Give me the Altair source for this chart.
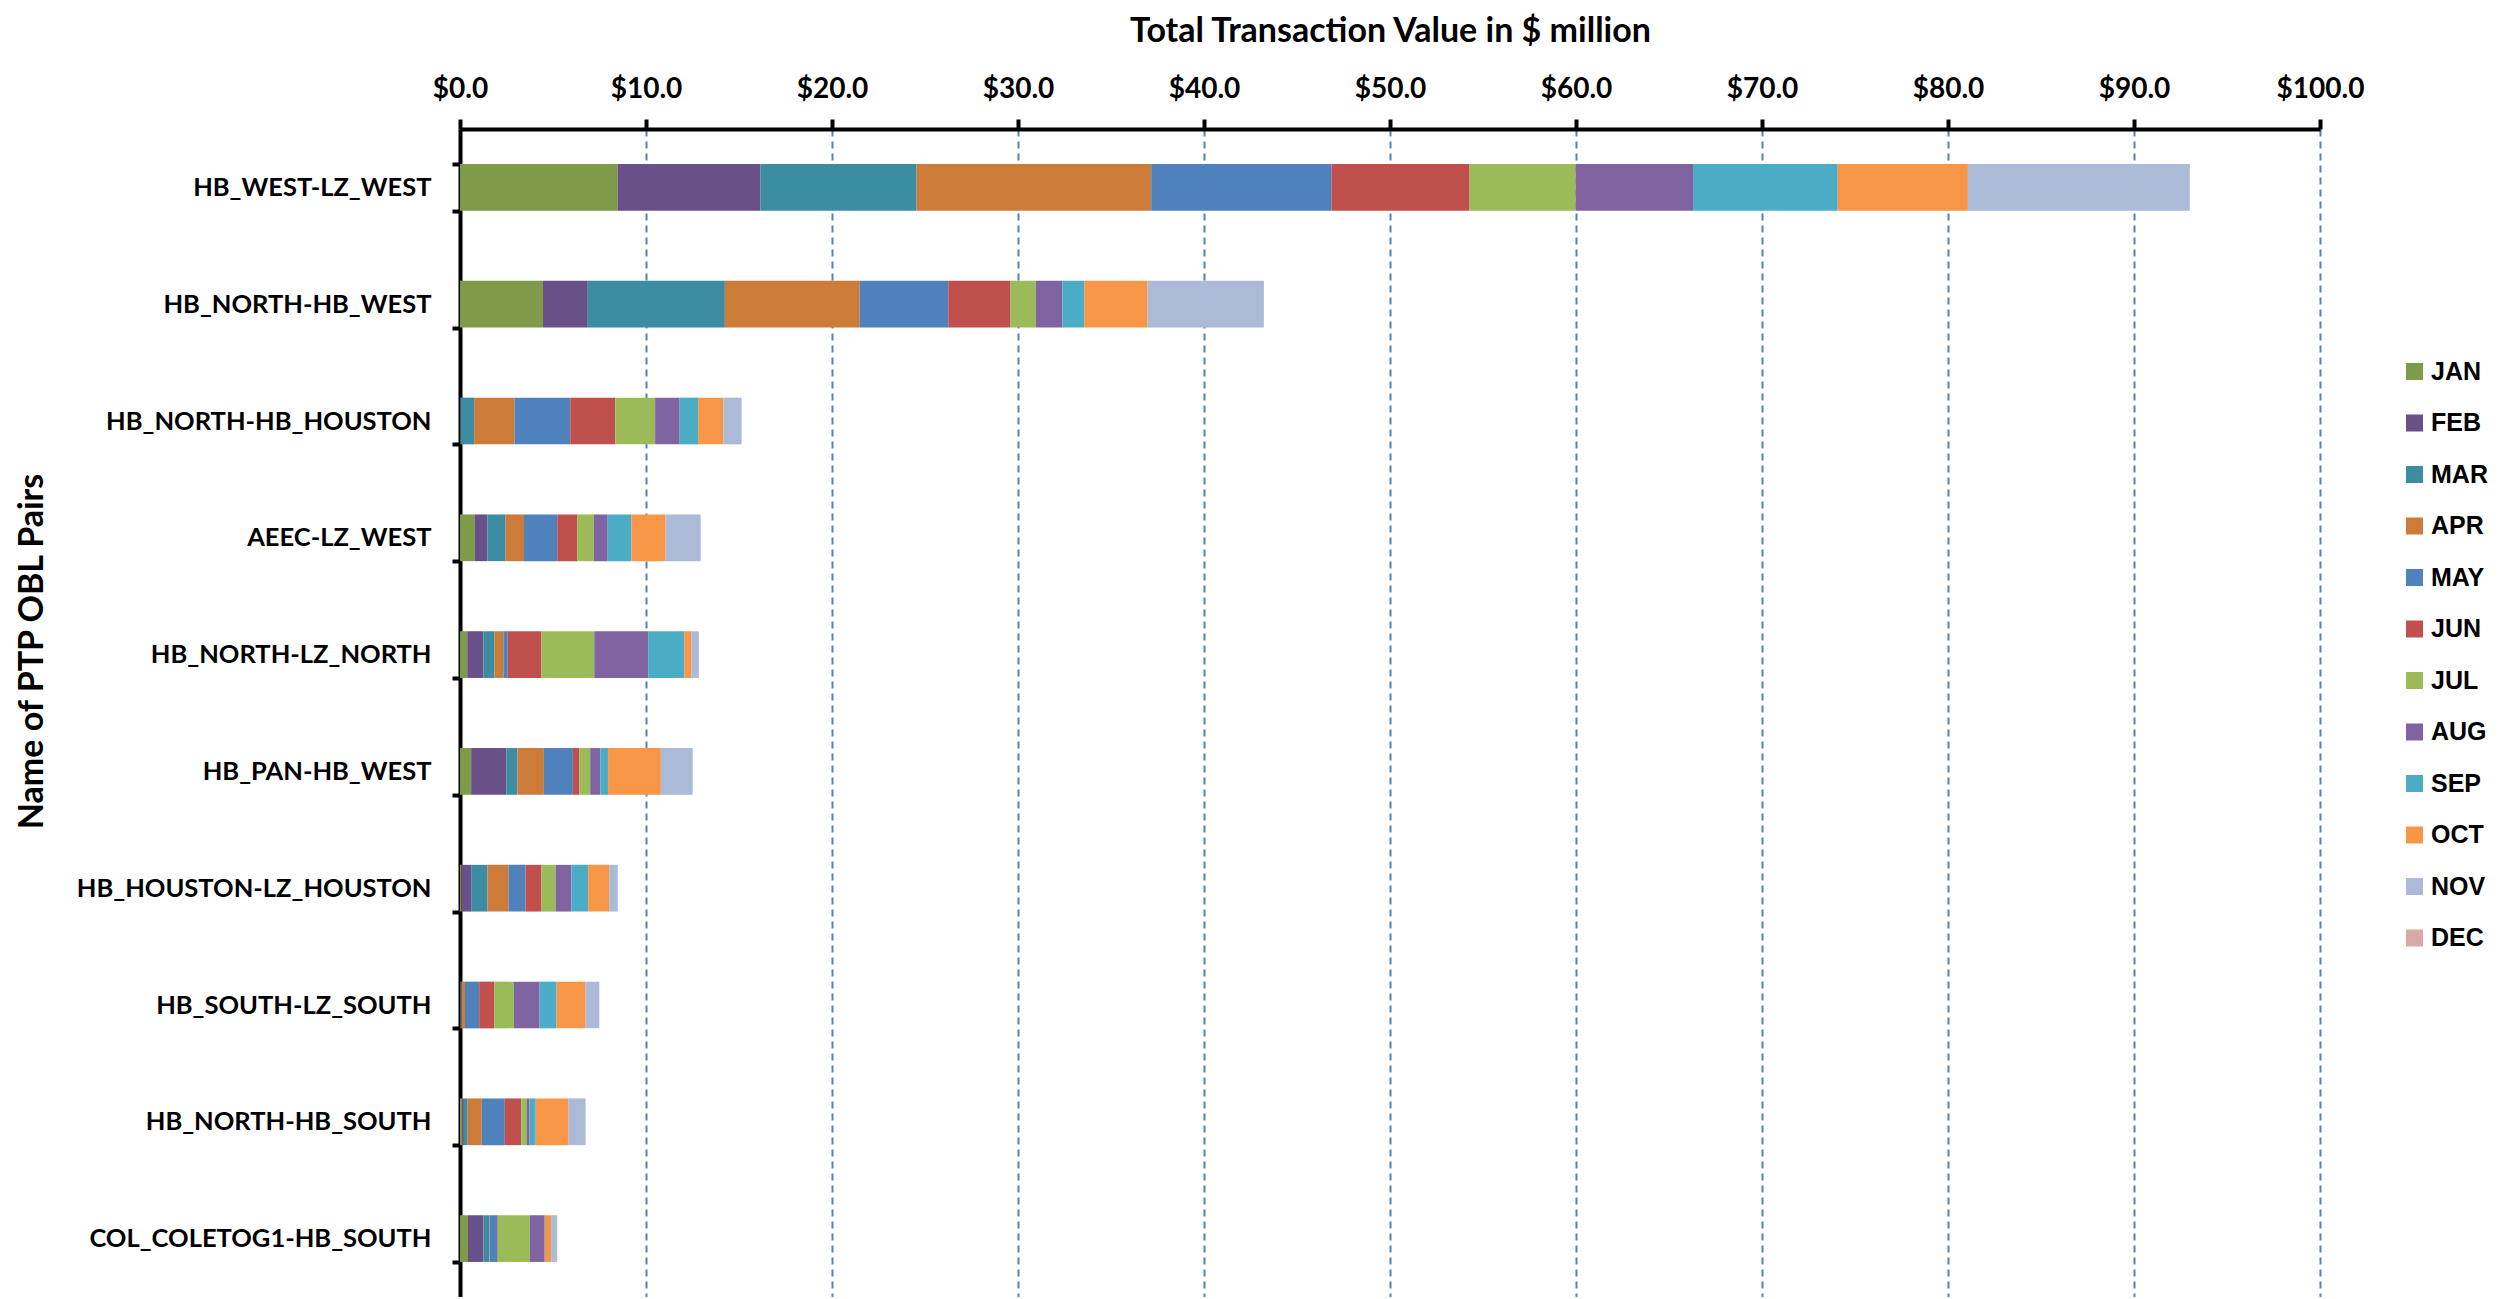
import altair as alt
import pandas as pd

months = ["JAN", "FEB", "MAR", "APR", "MAY", "JUN", "JUL", "AUG", "SEP", "OCT", "NOV", "DEC"]
colors = ["#7F9A48", "#6A5088", "#3C8CA3", "#CC7C38", "#4F81BD", "#C0504D",
          "#9BBB59", "#8064A2", "#4BACC6", "#F79646", "#AABAD7", "#D9A8A7"]

pairs = ["HB_WEST-LZ_WEST", "HB_NORTH-HB_WEST", "HB_NORTH-HB_HOUSTON", "AEEC-LZ_WEST",
         "HB_NORTH-LZ_NORTH", "HB_PAN-HB_WEST", "HB_HOUSTON-LZ_HOUSTON", "HB_SOUTH-LZ_SOUTH",
         "HB_NORTH-HB_SOUTH", "COL_COLETOG1-HB_SOUTH"]

# monthly values ($ million), JAN..DEC
hb_west_lz_west = [8.47, 7.69, 8.39, 12.61, 9.69, 7.43, 5.70, 6.31, 7.78, 7.00, 11.93, 0.0]
hb_north_hb_west = [4.46, 2.41, 7.37, 7.25, 4.76, 3.35, 1.36, 1.42, 1.18, 3.41, 6.25, 0.0]
hb_north_hb_houston = [0.02, 0.02, 0.72, 2.18, 2.99, 2.42, 2.14, 1.32, 0.99, 1.36, 0.98, 0.0]
aeec_lz_west = [0.80, 0.68, 0.97, 0.99, 1.79, 1.07, 0.90, 0.74, 1.28, 1.83, 1.89, 0.0]
hb_north_lz_north = [0.39, 0.87, 0.59, 0.48, 0.24, 1.81, 2.84, 2.90, 1.94, 0.39, 0.39, 0.0]
hb_pan_hb_west = [0.60, 1.89, 0.60, 1.42, 1.56, 0.35, 0.58, 0.55, 0.41, 2.84, 1.71, 0.0]
hb_houston_lz_houston = [0.08, 0.52, 0.88, 1.13, 0.91, 0.86, 0.76, 0.85, 0.90, 1.13, 0.46, 0.0]
hb_south_lz_south = [0.02, 0.03, 0.05, 0.17, 0.76, 0.82, 1.05, 1.38, 0.91, 1.56, 0.74, 0.0]
hb_north_hb_south = [0.11, 0.10, 0.20, 0.76, 1.24, 0.88, 0.31, 0.14, 0.33, 1.77, 0.91, 0.0]
col_coletog1_hb_south = [0.43, 0.83, 0.32, 0.02, 0.42, 0.02, 1.72, 0.79, 0.02, 0.33, 0.33, 0.0]

series = [hb_west_lz_west, hb_north_hb_west, hb_north_hb_houston, aeec_lz_west,
          hb_north_lz_north, hb_pan_hb_west, hb_houston_lz_houston, hb_south_lz_south,
          hb_north_hb_south, col_coletog1_hb_south]

rows = []
for p, vals in zip(pairs, series):
    for i, (m, v) in enumerate(zip(months, vals)):
        rows.append({"pair": p, "month": m, "idx": i, "value": v})
df = pd.DataFrame(rows)

FONT = "Lato"

chart = alt.Chart(df).mark_bar().encode(
    x=alt.X("sum(value):Q",
            scale=alt.Scale(domain=[0, 100], nice=False),
            axis=alt.Axis(orient="top", values=list(range(0, 101, 10)), format="$.1f",
                          title="Total Transaction Value in $ million",
                          titleFont=FONT, titleFontSize=34, titleFontWeight="bold", titleColor="black",
                          titleX=930, titleY=-88, titleAlign="center", titleBaseline="alphabetic",
                          labelFont=FONT, labelFontSize=28, labelFontWeight="bold", labelColor="black",
                          labelBaseline="alphabetic", labelPadding=22, labelFlush=False,
                          labelOverlap=False,
                          domainColor="black", domainWidth=4,
                          tickColor="black", tickWidth=4, tickSize=10,
                          grid=True, gridColor="#4F81BD", gridWidth=2, gridDash=[7, 5])),
    y=alt.Y("pair:N", sort=pairs,
            scale=alt.Scale(paddingInner=0.6, paddingOuter=0.3),
            axis=alt.Axis(title="Name of PTP OBL Pairs",
                          titleFont=FONT, titleFontSize=34, titleFontWeight="bold", titleColor="black",
                          titleX=-418, titleY=522, titleAngle=270, titleAlign="center",
                          titleBaseline="alphabetic",
                          labelFont=FONT, labelFontSize=25.5, labelFontWeight="bold", labelColor="black",
                          labelPadding=21, labelLimit=0,
                          domainColor="black", domainWidth=4,
                          tickColor="black", tickWidth=4, tickSize=8, tickBand="extent",
                          grid=False)),
    color=alt.Color("month:N",
                    scale=alt.Scale(domain=months, range=colors),
                    legend=alt.Legend(title=None, orient="none", legendX=1942, legendY=230,
                                      symbolType="square", symbolSize=289, symbolStrokeWidth=0,
                                      labelFont="Liberation Sans", labelFontSize=25,
                                      labelFontWeight="bold", labelColor="black",
                                      labelOffset=4, rowPadding=25.5, padding=0)),
    order=alt.Order("idx:Q", sort="ascending"),
).properties(
    width=1860, height=1168,
    autosize=alt.AutoSizeParams(type="none"),
    padding={"left": 452, "top": 121, "right": 190, "bottom": 0},
).configure_view(stroke=None)

chart.save("out.html", embed_options={"renderer": "svg", "actions": False})
